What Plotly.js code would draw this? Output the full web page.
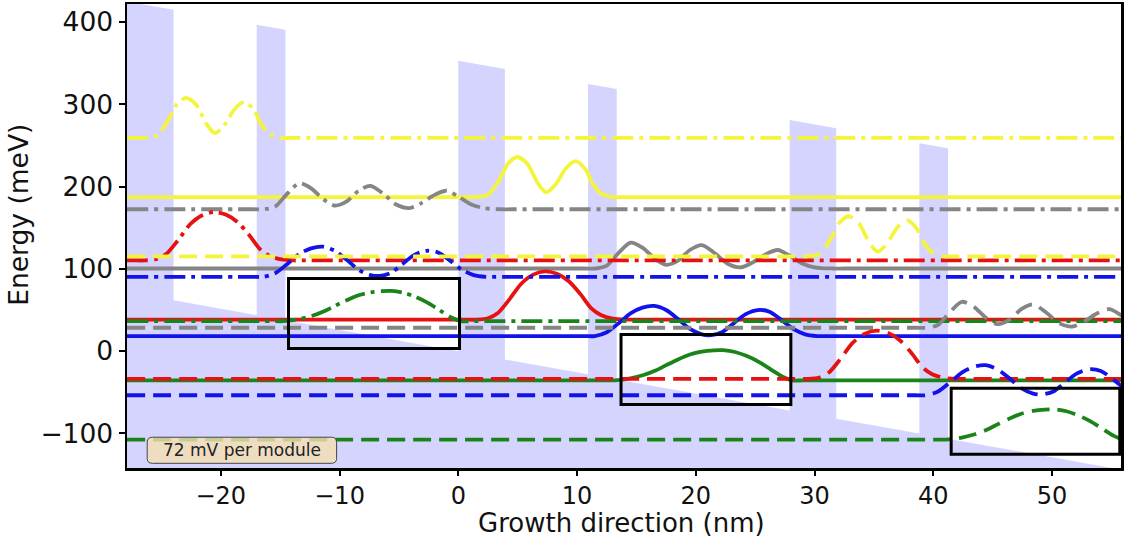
<!DOCTYPE html>
<html>
<head>
<meta charset="utf-8">
<script src="https://cdn.plot.ly/plotly-3.0.1.min.js"></script>
<style>
html,body{margin:0;padding:0;background:#fff;}
#chart{width:1126px;height:538px;}
</style>
</head>
<body>
<div id="chart"></div>
<script>
// ---------------- data ----------------
// conduction-band structure of one module (nm), barrier flags, offset (meV)
const layerThickness = [3.92, 7.0, 2.42, 14.56];
const layerIsBarrier = [1, 0, 1, 0];
const bandOffset = 353;          // meV
const biasPerModule = 72;        // meV (72 mV per module)
const modulePeriod = 27.9;       // nm
const moduleStarts = [-27.9, 0, 27.9];

// states of the reference module (x in nm, energy in meV)
const stateNames  = ["yellow", "grey", "red", "blue", "green"];
const stateColors = ["#f4f43a", "#858585", "#e61212", "#1212ea", "#1a841a"];
const stateLevels = [187.3, 100.5, 38.3, 18.4, -35.5];

const yellowX = [1.5, 2.5, 3.4, 4.2, 4.95, 5.8, 6.7, 7.4, 8.2, 9.1, 9.9, 10.7, 11.3, 12.0, 13.0];
const yellowE = [187.3, 190, 207, 228, 236, 228, 204, 193, 203, 223, 231, 221, 204, 192, 187.3];

const greyX = [11.6, 12.5, 13.4, 14.5, 15.5, 16.5, 17.5, 18.5, 19.5, 20.5, 21.6, 22.7, 23.8, 24.8, 25.9, 26.9, 27.9, 28.9, 30.0, 31.5];
const greyE = [100.5, 104, 118, 132, 126, 113, 105, 110, 123, 129, 119, 106, 102, 108, 118, 123, 116, 107, 102, 100.5];

const redX = [1.5, 2.5, 3.3, 4.3, 5.3, 6.3, 7.3, 8.3, 9.3, 10.3, 11.2, 12.0, 13.0, 14.0];
const redE = [38.3, 40, 46, 63, 82, 93, 97, 94, 85, 69, 52, 44, 39.5, 38.3];

const blueX = [11.5, 12.5, 13.5, 14.5, 15.5, 16.5, 17.5, 18.5, 19.5, 20.5, 21.3, 22.2, 23.2, 24.2, 25.2, 26.2, 27.2, 28.2, 29.2, 30.2];
const blueE = [18.4, 23, 34, 46, 53, 55, 50, 39, 27, 20.5, 19.5, 23, 34, 45, 50, 48, 38, 27, 20.5, 18.4];

const greenX = [13.2, 14.5, 15.6, 16.6, 17.5, 18.5, 19.5, 20.5, 21.5, 22.3, 23.3, 24.3, 25.3, 26.3, 27.3, 28.1];
const greenE = [-35.5, -33, -29, -23.5, -17, -10, -4, -0.5, 1, 1.2, -1, -6, -13, -22, -31, -35.5];

// module copies: x shift (nm), energy shift (meV), line style
const copyShiftX = [0, -27.9, 27.9];
const copyShiftE = [0, 72, -72];
const copyDash   = ["solid", "21px,6px,4px,6px", "18px,8px"];

// highlight boxes (nm, meV)
const boxX0 = [-14.3, 13.7, 41.5];
const boxX1 = [0.1, 28.0, 55.7];
const boxY0 = [3.3, -64.8, -125.3];
const boxY1 = [88.4, 20.3, -45.0];

const labelText = "72 mV per module";
const labelBox = [-26.2, -10.25, -136.3, -104.6];

const xTitle = "Growth direction (nm)";
const yTitle = "Energy (meV)";
const xRange = [-27.9, 55.8];
const yRange = [-142, 422];
const xTicks = [-20, -10, 0, 10, 20, 30, 40, 50];
const yTicks = [-100, 0, 100, 200, 300, 400];

// ---------------- build traces ----------------
const profX = [yellowX, greyX, redX, blueX, greenX];
const profE = [yellowE, greyE, redE, blueE, greenE];

const traces = [];

// band edge polygon (filled to bottom)
const field = biasPerModule / modulePeriod;
const bx = [], by = [];
moduleStarts.forEach(m0 => {
  let x0 = m0;
  layerThickness.forEach((t, i) => {
    const x1 = x0 + t;
    const v = layerIsBarrier[i] ? bandOffset : 0;
    bx.push(x0, x1);
    by.push(v - field * x0, v - field * x1);
    x0 = x1;
  });
});
bx.push(bx[bx.length - 1], bx[0]);
by.push(-500, -500);
traces.push({
  x: bx, y: by, type: "scatter", mode: "lines", fill: "toself",
  fillcolor: "rgba(0,0,255,0.17)", line: {width: 0}, hoverinfo: "skip", showlegend: false
});

copyShiftX.forEach((sx, c) => {
  stateNames.forEach((nm, s) => {
    const lvl = stateLevels[s] + copyShiftE[c];
    const px = profX[s], pe = profE[s];
    // flat level outside the localized part of the state
    const xs = [xRange[0], px[0] + sx - 1.0];
    const ys = [lvl, lvl];
    px.forEach((x, k) => { xs.push(x + sx); ys.push(pe[k] + copyShiftE[c]); });
    xs.push(px[px.length - 1] + sx + 1.0, xRange[1] + 10);
    ys.push(lvl, lvl);
    traces.push({
      x: xs, y: ys, type: "scatter", mode: "lines", name: nm,
      line: {color: stateColors[s], width: 3.8, dash: copyDash[c], shape: "spline", smoothing: 0.8},
      showlegend: false, hoverinfo: "skip"
    });
  });
});

const shapes = boxX0.map((x0, i) => ({
  type: "rect", xref: "x", yref: "y", x0: x0, x1: boxX1[i], y0: boxY0[i], y1: boxY1[i],
  line: {color: "#000", width: 3}, fillcolor: "rgba(0,0,0,0)"
}));

// rounded label box
const [lx0, lx1, ly0, ly1] = labelBox;
const rx = 0.45, ry = 6;
shapes.push({
  type: "path", xref: "x", yref: "y",
  path: `M ${lx0+rx},${ly0} L ${lx1-rx},${ly0} Q ${lx1},${ly0} ${lx1},${ly0+ry} L ${lx1},${ly1-ry} Q ${lx1},${ly1} ${lx1-rx},${ly1} L ${lx0+rx},${ly1} Q ${lx0},${ly1} ${lx0},${ly1-ry} L ${lx0},${ly0+ry} Q ${lx0},${ly0} ${lx0+rx},${ly0} Z`,
  fillcolor: "rgba(245,222,179,0.8)", line: {color: "#444", width: 1}
});

const layout = {
  width: 1126, height: 538,
  margin: {l: 127, r: 5, t: 4, b: 70},
  paper_bgcolor: "#fff", plot_bgcolor: "#fff",
  font: {family: "DejaVu Sans", color: "#111"},
  xaxis: {
    range: xRange, tickvals: xTicks, ticks: "outside", ticklen: 5, tickwidth: 2, tickcolor: "#000",
    showline: true, linecolor: "#000", linewidth: 2.5, mirror: true, showgrid: false, zeroline: false,
    tickfont: {size: 24, family: "DejaVu Sans"}
  },
  yaxis: {
    range: yRange, tickvals: yTicks, ticks: "outside", ticklen: 6, tickwidth: 2, tickcolor: "#000",
    showline: true, linecolor: "#000", linewidth: 2.5, mirror: true, showgrid: false, zeroline: false,
    tickfont: {size: 26.5, family: "DejaVu Sans"}
  },
  shapes: shapes,
  annotations: [
    {
      x: (lx0 + lx1) / 2, y: (ly0 + ly1) / 2, xref: "x", yref: "y", text: labelText,
      showarrow: false, font: {size: 17, family: "DejaVu Sans", color: "#222"}
    },
    {
      x: 0.497, y: -0.1185, xref: "paper", yref: "paper", text: xTitle, showarrow: false,
      xanchor: "center", yanchor: "middle", font: {size: 26, family: "DejaVu Sans", color: "#111"}
    },
    {
      x: -0.11, y: 0.545, xref: "paper", yref: "paper", text: yTitle, showarrow: false,
      textangle: -90, xanchor: "center", yanchor: "middle",
      font: {size: 26.5, family: "DejaVu Sans", color: "#111"}
    }
  ]
};

Plotly.newPlot("chart", traces, layout, {staticPlot: true, displayModeBar: false});
</script>
</body>
</html>
